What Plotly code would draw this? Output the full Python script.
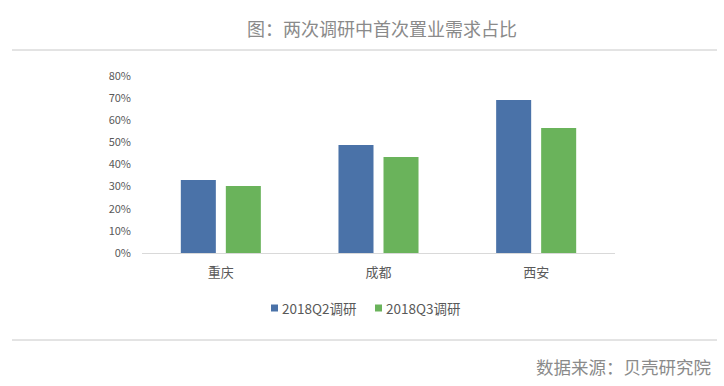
import plotly.graph_objects as go

categories = ["重庆", "成都", "西安"]
q2_values = [0.33, 0.488, 0.692]
q3_values = [0.303, 0.434, 0.565]
series_names = ["2018Q2调研", "2018Q3调研"]
series_colors = ["#4a72a8", "#6ab35b"]
tick_vals = [0, 0.1, 0.2, 0.3, 0.4, 0.5, 0.6, 0.7, 0.8]
tick_text = ["0%", "10%", "20%", "30%", "40%", "50%", "60%", "70%", "80%"]

W, H = 724, 386
FONT = "Noto Sans CJK SC"

fig = go.Figure()
fig.add_trace(go.Bar(x=categories, y=q2_values, name=series_names[0],
                     marker=dict(color=series_colors[0], line=dict(width=0))))
fig.add_trace(go.Bar(x=categories, y=q3_values, name=series_names[1],
                     marker=dict(color=series_colors[1], line=dict(width=0))))

def px_x(p):
    return p / W

def px_y(p):
    return 1 - p / H

# custom legend: small square keys + text
legend_shapes = []
legend_annots = []
key_x = [271, 375]
for i, name in enumerate(series_names):
    legend_shapes.append(dict(type="rect", xref="paper", yref="paper",
                              x0=px_x(key_x[i]), x1=px_x(key_x[i] + 7),
                              y0=px_y(311.5), y1=px_y(304.5),
                              fillcolor=series_colors[i], line=dict(width=0)))
    legend_annots.append(dict(text=name, xref="paper", yref="paper",
                              x=px_x(key_x[i] + 9), y=px_y(308), xanchor="left",
                              yanchor="middle", showarrow=False,
                              font=dict(size=13.5, color="#595959", family=FONT)))

fig.update_layout(
    width=W, height=H, autosize=False,
    margin=dict(l=0, r=0, t=0, b=0, pad=0, autoexpand=False),
    paper_bgcolor="white", plot_bgcolor="white",
    barmode="group", bargap=0.429, bargroupgap=0.222,
    font=dict(family=FONT, color="#595959"),
    xaxis=dict(domain=[px_x(142), px_x(615)], showline=True, linecolor="#d9d9d9",
               linewidth=1, ticks="", showgrid=False, zeroline=False, automargin=False,
               ticklabelstandoff=7,
               tickfont=dict(size=13, color="#595959", family=FONT)),
    yaxis=dict(domain=[px_y(253), px_y(76)], range=[0, 0.8], tickvals=tick_vals,
               ticktext=tick_text, showgrid=False, zeroline=False, showline=False,
               automargin=False, ticks="", ticklabelstandoff=10,
               tickfont=dict(size=11, color="#595959", family=FONT)),
    showlegend=False,
    shapes=[
        dict(type="line", xref="paper", yref="paper", x0=px_x(12), x1=px_x(717),
             y0=px_y(50), y1=px_y(50), line=dict(color="#c8c8c8", width=1)),
        dict(type="line", xref="paper", yref="paper", x0=px_x(12), x1=px_x(717),
             y0=px_y(340), y1=px_y(340), line=dict(color="#c8c8c8", width=1)),
    ] + legend_shapes,
    annotations=[
        dict(text="图：两次调研中首次置业需求占比", xref="paper", yref="paper",
             x=px_x(382), y=px_y(28), xanchor="center", yanchor="middle", showarrow=False,
             font=dict(size=18, color="#8a8a8a", family=FONT)),
        dict(text="数据来源：贝壳研究院", xref="paper", yref="paper",
             x=px_x(713), y=px_y(366), xanchor="right", yanchor="middle", showarrow=False,
             font=dict(size=17.5, color="#8a8a8a", family=FONT)),
    ] + legend_annots,
)

fig.write_html("out.html", config={"displayModeBar": False},
               post_script="document.body.style.margin='0';")
